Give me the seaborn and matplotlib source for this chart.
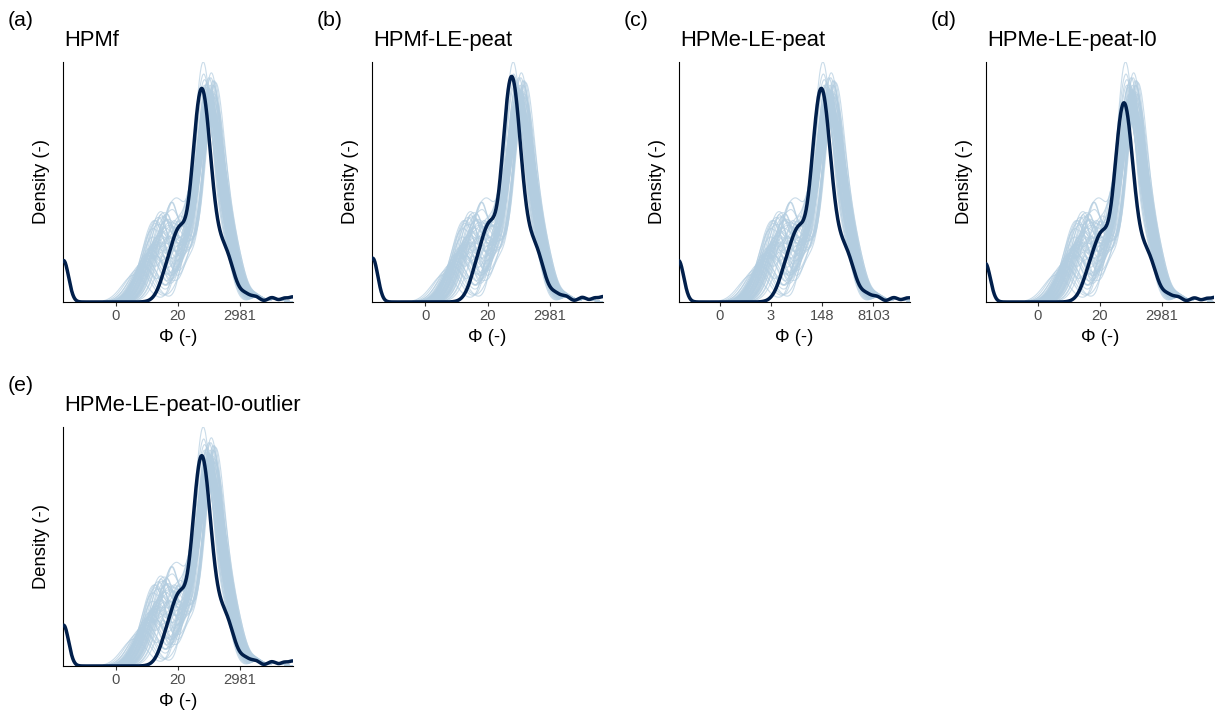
import numpy as np
import pandas as pd
import matplotlib
matplotlib.use("Agg")
import matplotlib.pyplot as plt
import seaborn as sns

# ---------------- data (log(Phi) scale) ----------------
panel_tags = ["(a)", "(b)", "(c)", "(d)", "(e)"]
panel_titles = ["HPMf", "HPMf-LE-peat", "HPMe-LE-peat", "HPMe-LE-peat-l0",
                "HPMe-LE-peat-l0-outlier"]
x_min = [-6.25, -6.26, -6.17, -6.15, -6.25]
x_max = [12.3, 12.26, 11.86, 12.17, 12.3]
tick_pos = [[-2, 3, 8], [-2, 3, 8], [-3, 1, 5, 9], [-2, 3, 8], [-2, 3, 8]]
tick_labels = [["0", "20", "2981"], ["0", "20", "2981"], ["0", "3", "148", "8103"],
               ["0", "20", "2981"], ["0", "20", "2981"]]
# observed peak height as a fraction of the panel's density maximum
obs_peak_frac = [0.89, 0.94, 0.89, 0.83, 0.88]

obs_loc = [-6.2, 2.6, 3.2, 4.93, 6.85, 8.5, 9.3, 10.6, 11.6, 12.3]
obs_sd = [0.4, 0.75, 0.45, 0.77, 0.7, 0.4, 0.35, 0.35, 0.3, 0.3]
obs_amp = [0.17, 0.2, 0.1, 0.87, 0.19, 0.025, 0.02, 0.018, 0.015, 0.02]

# replicated densities: common shape + per-draw shift/width/height/left-tail
tmpl_loc = [3.5, 5.5, 7.2]
tmpl_sd = [0.7, 0.85, 0.7]
tmpl_amp = [0.15, 0.88, 0.17]
rep_tail_loc = [9.4, 11.0]
rep_tail_sd = [0.5, 0.5]
rep_tail_amp = [0.02, 0.012]
rep_start = -3.0
rep_left_sd = 1.0
rep_bump_sd = 0.35
rep_shift = [-0.15, 0.10, -0.30, 0.25, -0.05, 0.40, -0.20, 0.05, 0.15, -0.35,
             0.30, -0.10, 0.00, 0.20, -0.25, 0.35, -0.05, 0.10, -0.15, 0.00,
             0.25, -0.45, 0.15, -0.10, 0.05, -0.20, 0.30, 0.00, -0.05, 0.20,
             -0.30, 0.10, -0.15, 0.45, 0.00, 0.15, -0.25, -0.05, 0.25, 0.05,
             0.50, -0.40, 0.20, 0.35, -0.10, 0.55, 0.05, -0.20, 0.30, 0.10,
             -0.35, 0.40, 0.00, 0.15, -0.25, 0.25, 0.45, -0.05, 0.35, 0.10]
rep_width = [1.00, 0.95, 1.05, 1.10, 1.15, 0.92, 1.02, 0.97, 1.12, 1.00,
             0.91, 1.08, 0.97, 1.18, 1.10, 0.95, 0.98, 1.14, 0.96, 1.05,
             1.20, 0.90, 0.93, 1.00, 1.07, 0.98, 1.16, 1.02, 1.04, 0.97,
             1.00, 1.12, 1.03, 0.92, 1.00, 1.09, 1.06, 1.02, 1.15, 0.98,
             1.05, 0.94, 1.10, 1.00, 1.13, 0.96, 1.08, 0.99, 1.19, 1.03,
             0.95, 1.06, 1.11, 0.97, 1.04, 1.14, 1.00, 1.07, 0.93, 1.10]
rep_amp = [0.86, 0.90, 0.80, 0.85, 0.78, 0.90, 0.84, 0.88, 0.80, 0.92,
           0.87, 0.80, 0.93, 0.80, 0.76, 0.90, 0.89, 0.79, 0.91, 0.82,
           0.78, 1.00, 0.88, 0.85, 0.77, 0.90, 0.79, 0.84, 0.83, 0.95,
           0.83, 0.82, 0.82, 0.92, 0.86, 0.84, 0.78, 0.85, 0.78, 0.88,
           0.84, 0.94, 0.80, 0.87, 0.77, 0.91, 0.83, 0.89, 0.76, 0.85,
           0.90, 0.82, 0.79, 0.93, 0.81, 0.78, 0.86, 0.84, 0.92, 0.80]
rep_left = [1.2, 0.8, 1.6, 0.5, 1.9, 1.0, 1.4, 0.7, 2.1, 1.1,
            1.7, 0.4, 1.3, 0.9, 1.8, 1.5, 0.6, 2.0, 1.2, -0.2,
            1.6, 1.0, 1.9, 0.5, 1.4, 1.1, 0.7, 1.7, 1.3, 2.2,
            0.9, 1.5, -0.5, 1.8, 1.2, 1.0, 1.6, 0.3, 1.4, 2.0,
            0.1, 2.4, 1.1, 0.6, 1.7, 2.3, 0.8, 1.3, 0.0, 1.9,
            1.5, 0.4, 2.5, 1.0, 0.7, 1.6, 2.1, 0.2, 1.2, 1.8]
rep_left_amp = [0.22, 0.18, 0.30, 0.15, 0.28, 0.24, 0.24, 0.17, 0.27, 0.21,
                0.32, 0.14, 0.23, 0.19, 0.29, 0.22, 0.16, 0.26, 0.30, 0.12,
                0.24, 0.21, 0.27, 0.15, 0.31, 0.20, 0.17, 0.25, 0.22, 0.28,
                0.19, 0.24, 0.10, 0.26, 0.21, 0.20, 0.25, 0.13, 0.23, 0.27,
                0.14, 0.26, 0.30, 0.18, 0.22, 0.24, 0.20, 0.28, 0.12, 0.25,
                0.21, 0.16, 0.22, 0.27, 0.18, 0.33, 0.23, 0.13, 0.29, 0.20]
rep_bump = [3.0, 2.2, 3.6, 2.8, 4.0, 2.5, 3.3, 1.8, 3.8, 2.9,
            2.4, 3.5, 2.0, 3.9, 2.7, 3.2, 1.6, 3.7, 2.6, 3.1,
            4.1, 2.3, 3.4, 1.9, 3.0, 2.8, 3.6, 2.1, 3.9, 2.5,
            3.3, 1.7, 2.9, 3.8, 2.4, 3.5, 2.2, 3.1, 4.2, 2.6,
            3.4, 2.0, 3.7, 2.7, 3.0, 1.8, 3.6, 2.3, 3.9, 2.8,
            3.2, 2.5, 4.0, 2.1, 3.5, 2.9, 3.3, 1.9, 3.7, 2.6]
rep_bump_amp = [0.06, 0.08, 0.04, 0.07, 0.09, 0.04, 0.06, 0.08, 0.05, 0.10,
                0.04, 0.07, 0.08, 0.06, 0.04, 0.08, 0.06, 0.09, 0.05, 0.07,
                0.08, 0.04, 0.06, 0.10, 0.06, 0.04, 0.08, 0.05, 0.09, 0.07,
                0.04, 0.08, 0.06, 0.06, 0.10, 0.04, 0.07, 0.08, 0.05, 0.09,
                0.06, 0.04, 0.08, 0.06, 0.07, 0.10, 0.04, 0.08, 0.05, 0.06,
                0.09, 0.04, 0.07, 0.08, 0.06, 0.04, 0.08, 0.06, 0.05, 0.08]


def mix(x, locs, sds, amps):
    out = np.zeros_like(x)
    for m, s, a in zip(locs, sds, amps):
        out += a * np.exp(-0.5 * ((x - m) / s) ** 2)
    return out


# ---------------- style ----------------
sns.set_style("ticks")
plt.rcParams["font.family"] = ["Liberation Sans", "DejaVu Sans"]

W, H = 1215, 717
fig = plt.figure(figsize=(W / 100, H / 100), dpi=100)
axes_px = [(63, 293, 62, 302), (372, 603, 62, 302), (679, 910, 62, 302),
           (986, 1214, 62, 302), (63, 293, 427, 666)]

OBS_COL = "#011f4b"
REP_COL = "#b3cde0"

for k in range(5):
    l, r, t, b = axes_px[k]
    ax = fig.add_axes([l / W, 1 - b / H, (r - l) / W, (b - t) / H])

    grid = np.linspace(x_min[k], x_max[k], 800)
    obs = mix(grid, obs_loc, obs_sd, obs_amp)

    rgrid = grid[grid >= rep_start]
    curves = []
    for i in range(len(rep_shift)):
        locs = ([m + rep_shift[i] for m in tmpl_loc] + [rep_left[i], rep_bump[i]]
                + rep_tail_loc)
        sds = ([s * rep_width[i] for s in tmpl_sd] + [rep_left_sd, rep_bump_sd]
               + rep_tail_sd)
        amps = ([a * rep_amp[i] for a in tmpl_amp] + [rep_left_amp[i], rep_bump_amp[i]]
                + rep_tail_amp)
        curves.append(mix(rgrid, locs, sds, amps))
    raw_max = max(c.max() for c in curves)
    top = obs.max() / obs_peak_frac[k]
    scale = top / raw_max
    frames = [pd.DataFrame({"x": rgrid, "density": c * scale, "draw": i})
              for i, c in enumerate(curves)]
    df_rep = pd.concat(frames, ignore_index=True)

    sns.lineplot(data=df_rep, x="x", y="density", units="draw", estimator=None,
                 color=REP_COL, alpha=0.7, lw=0.8, ax=ax, legend=False, zorder=2)
    sns.lineplot(x=grid, y=obs, color=OBS_COL, lw=2.5, ax=ax, zorder=3)

    ax.set_xlim(x_min[k], x_max[k])
    ax.set_ylim(0, top)
    ax.set_xticks(tick_pos[k])
    ax.set_xticklabels(tick_labels[k])
    ax.set_yticks([])
    ax.set_xlabel("")
    ax.set_ylabel("")
    for side in ["top", "right"]:
        ax.spines[side].set_visible(False)
    for side in ["left", "bottom"]:
        ax.spines[side].set_color("black")
        ax.spines[side].set_linewidth(0.8)
    ax.tick_params(axis="x", length=2.6, width=0.8, color="#333333",
                   labelcolor="#4d4d4d", labelsize=10.6, pad=2.4)
    ax.set_facecolor("white")

    ax.text(-21.3 / (r - l), 0.5, "Density (-)", transform=ax.transAxes,
            rotation=90, ha="center", va="center", fontsize=13.2, color="black")
    ax.text(0.5, -35.0 / (b - t), "Φ (-)", transform=ax.transAxes,
            ha="center", va="center", fontsize=13.2, color="black")

    fig.text((l + 1) / W, 1 - (t - 16) / H, panel_titles[k], ha="left",
             va="baseline", fontsize=15.8, color="black")
    fig.text((l - 55) / W, 1 - (t - 36) / H, panel_tags[k], ha="left",
             va="baseline", fontsize=15.3, color="black")

fig.savefig("out.png", dpi=100, facecolor="white")
